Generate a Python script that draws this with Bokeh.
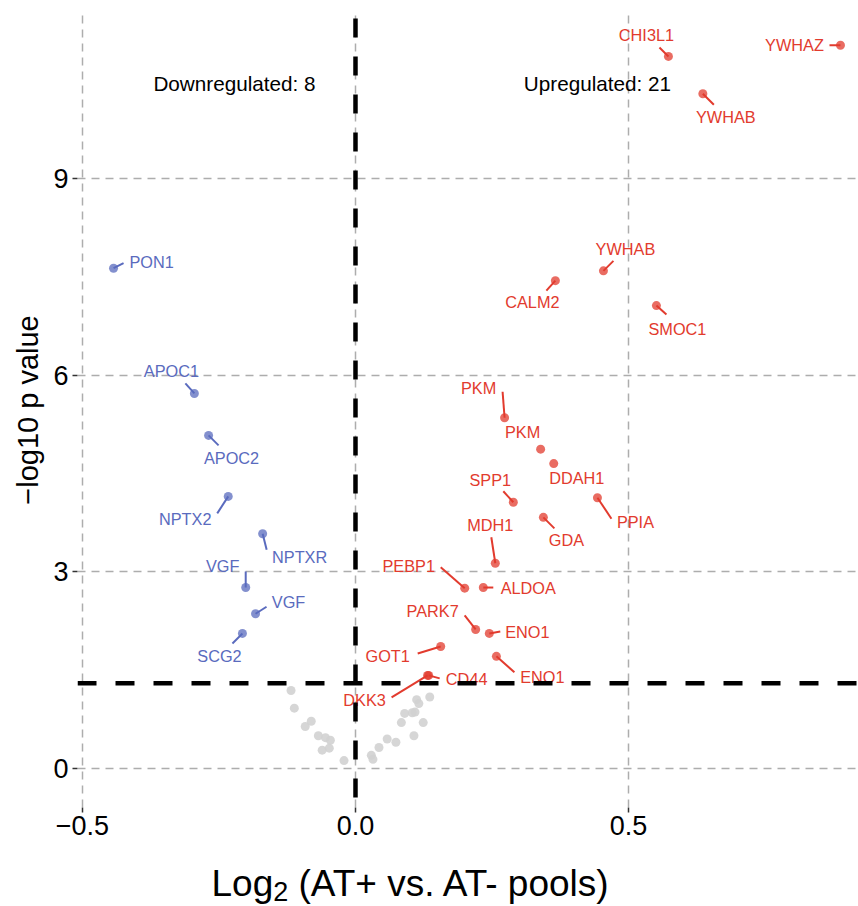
from bokeh.plotting import figure
from bokeh.layouts import column
from bokeh.models import Range1d, FixedTicker, CustomJSTickFormatter, Span, Label, ColumnDataSource
from bokeh.core.properties import value
from bokeh.embed import file_html
from bokeh.resources import INLINE

# ---------------- data ----------------
genes_up = ["YWHAZ", "CHI3L1", "YWHAB", "YWHAB", "CALM2", "SMOC1", "PKM", "PKM",
            "DDAH1", "SPP1", "PPIA", "GDA", "MDH1", "PEBP1", "ALDOA", "PARK7",
            "ENO1", "ENO1", "GOT1", "CD44", "DKK3"]
log2fc_up = [0.888, 0.573, 0.636, 0.454, 0.366, 0.551, 0.273, 0.339,
             0.363, 0.289, 0.443, 0.344, 0.256, 0.200, 0.234, 0.220,
             0.245, 0.258, 0.156, 0.134, 0.132]
nlogp_up = [11.03, 10.86, 10.29, 7.59, 7.44, 7.06, 5.35, 4.87,
            4.65, 4.06, 4.13, 3.83, 3.13, 2.75, 2.76, 2.12,
            2.06, 1.71, 1.86, 1.42, 1.42]

genes_down = ["PON1", "APOC1", "APOC2", "NPTX2", "NPTXR", "VGF", "VGF", "SCG2"]
log2fc_down = [-0.443, -0.295, -0.269, -0.233, -0.170, -0.201, -0.183, -0.207]
nlogp_down = [7.63, 5.72, 5.08, 4.15, 3.58, 2.76, 2.36, 2.06]

log2fc_ns = [-0.118, -0.112, -0.092, -0.081, -0.068, -0.055, -0.046, -0.061, -0.048, -0.021,
             0.029, 0.032, 0.043, 0.058, 0.074, 0.084, 0.090, 0.104, 0.109, 0.112,
             0.116, 0.124, 0.107, 0.136]
nlogp_ns = [1.19, 0.92, 0.64, 0.72, 0.50, 0.47, 0.43, 0.28, 0.31, 0.12,
            0.20, 0.14, 0.32, 0.45, 0.40, 0.70, 0.84, 0.85, 0.86, 1.05,
            0.99, 0.70, 0.50, 1.09]

x_ticks = [-0.5, 0.0, 0.5]
y_ticks = [0, 3, 6, 9]
p_cutoff_nlog = 1.30103   # -log10(0.05)
fc_cutoff = 0.0

x_title_parts = ["Log", "2", "(AT+ vs. AT- pools)"]
y_title = "\u2212log10 p value"

# ---------------- label layout (screen px offsets, repel-style) ----------------
up_lab_dx = [-46, -22, 23, 22, -23, 21, -26, -18, 23, -23, 38, 23, -5, -56, 45, -43, 38, 46, -53, 38, -63]
up_lab_dy = [0, -21, 23, -22, 21, 23, -30, -17, 14, -22, 24, 23, -38, -22, 0, -18, -1, 21, 9, 4, 25]
up_seg_dx = [-11, -9, 11, 10, -9, 10, -2, 0, 0, -10, 14, 11, -4, -24, 10, -11, 11, 18, -23, 11, -36]
up_seg_dy = [0, -9, 11, -10, 10, 9, -26, 0, 0, -11, 21, 11, -26, -21, 0, -14, -2, 16, 7, 3, 22]

dn_lab_dx = [38, -23, 23, -43, 37, -23, 33, -23]
dn_lab_dy = [-6, -22, 23, 23, 23, -22, -12, 23]
dn_seg_dx = [10, -9, 10, -11, 4, 0, 11, -10]
dn_seg_dy = [-5, -10, 10, 17, 16, -16, -7, 10]

# ---------------- figure ----------------
W = 858
HM = 860          # main figure height
HT = 46           # x-title strip height (total 906)
BL, BR, BT, BB = 77, 0, 12, 53
X0, X1 = -0.509, 0.921
Y0, Y1 = -0.595, 11.53
PXX = (W - BL - BR) / (X1 - X0)
PXY = (HM - BT - BB) / (Y1 - Y0)

RED = "#E23B2E"
BLUE = "#5A6BBE"
GREY = "#D2D2D2"
FONT = "Liberation Sans"

p = figure(width=W, height=HM, x_range=Range1d(X0, X1), y_range=Range1d(Y0, Y1),
           output_backend="svg", toolbar_location=None,
           min_border_left=BL, min_border_right=BR, min_border_top=BT, min_border_bottom=BB)
p.outline_line_color = None
p.background_fill_color = "white"
p.border_fill_color = "white"

p.xaxis.ticker = FixedTicker(ticks=x_ticks)
p.yaxis.ticker = FixedTicker(ticks=y_ticks)
p.xaxis.formatter = CustomJSTickFormatter(code="return tick.toFixed(1).replace('-', '\u2212');")
p.yaxis.formatter = CustomJSTickFormatter(code="return tick.toFixed(0);")

p.grid.grid_line_color = "#ADADAD"
p.grid.grid_line_dash = "8 6"
p.grid.grid_line_width = 1.5

for ax in (p.xaxis[0], p.yaxis[0]):
    ax.axis_line_color = None
    ax.major_tick_line_color = "#333333"
    ax.major_tick_line_width = 1.5
    ax.major_tick_out = 5
    ax.major_tick_in = 0
    ax.minor_tick_line_color = None
    ax.major_label_text_font = FONT
    ax.major_label_text_font_size = "27px"
    ax.major_label_text_color = "black"
    ax.axis_label_text_font = FONT
    ax.axis_label_text_font_style = "normal"
    ax.axis_label_text_color = "black"

p.xaxis.major_label_standoff = 3
p.yaxis.axis_label = y_title
p.yaxis.axis_label_text_font_size = "29px"
p.yaxis.major_label_standoff = 4
p.yaxis.axis_label_standoff = 6

# non-significant points
p.scatter(log2fc_ns, nlogp_ns, size=9, fill_color=GREY, fill_alpha=0.9, line_color=None)


def add_group(xs, ys, names, ldx, ldy, sdx, sdy, color):
    sx1 = [x + d / PXX for x, d in zip(xs, sdx)]
    sy1 = [y - d / PXY for y, d in zip(ys, sdy)]
    p.segment(x0=xs, y0=ys, x1=sx1, y1=sy1, line_color=color, line_width=2)
    p.scatter(xs, ys, size=9, fill_color=color, fill_alpha=0.75, line_color=None)
    src = ColumnDataSource(dict(x=xs, y=ys, t=names, dx=ldx, dy=ldy))
    p.text(x="x", y="y", text="t", x_offset="dx", y_offset="dy", source=src,
           text_color=color, text_font=value(FONT), text_font_size="16.3px",
           text_align="center", text_baseline="middle")


add_group(log2fc_up, nlogp_up, genes_up, up_lab_dx, up_lab_dy, up_seg_dx, up_seg_dy, RED)
add_group(log2fc_down, nlogp_down, genes_down, dn_lab_dx, dn_lab_dy, dn_seg_dx, dn_seg_dy, BLUE)

# threshold lines
p.add_layout(Span(location=fc_cutoff, dimension="height", line_color="black",
                  line_width=4.5, line_dash="19 19", line_dash_offset=32))
p.add_layout(Span(location=p_cutoff_nlog, dimension="width", line_color="black",
                  line_width=4.5, line_dash="19 19"))

# counts
p.add_layout(Label(x=-0.2216, y=10.45, text=f"Downregulated: {len(genes_down)}",
                   text_font=FONT, text_font_size="20.7px", text_color="black",
                   text_align="center", text_baseline="middle"))
p.add_layout(Label(x=0.443, y=10.45, text=f"Upregulated: {len(genes_up)}",
                   text_font=FONT, text_font_size="20.7px", text_color="black",
                   text_align="center", text_baseline="middle"))

# ---------------- x-axis title strip (true subscript) ----------------
t = figure(width=W, height=HT, x_range=Range1d(0, 1), y_range=Range1d(0, 1),
           output_backend="svg", toolbar_location=None,
           x_axis_location=None, y_axis_location=None,
           min_border_left=0, min_border_right=0, min_border_top=0, min_border_bottom=0)
t.outline_line_color = None
t.grid.visible = False
t.background_fill_color = "white"
t.border_fill_color = "white"

XF = 37
SUBF = 27
x_left = 211 - BL      # frame-relative (frames are aligned in the column)
base_y = 23
sub_y = 15.4
w_log = 1.668 * XF
w_sub = 0.556 * SUBF
w_space = 0.278 * XF
t.add_layout(Label(x=x_left, y=base_y, x_units="screen", y_units="screen", text=x_title_parts[0],
                   text_font=FONT, text_font_size=f"{XF}px", text_color="black",
                   text_align="left", text_baseline="alphabetic"))
t.add_layout(Label(x=x_left + w_log, y=sub_y, x_units="screen", y_units="screen",
                   text=x_title_parts[1],
                   text_font=FONT, text_font_size=f"{SUBF}px", text_color="black",
                   text_align="left", text_baseline="alphabetic"))
t.add_layout(Label(x=x_left + w_log + w_sub + w_space, y=base_y, x_units="screen", y_units="screen",
                   text=x_title_parts[2],
                   text_font=FONT, text_font_size=f"{XF}px", text_color="black",
                   text_align="left", text_baseline="alphabetic"))

layout = column(p, t, spacing=0)
open("out.html", "w").write(file_html(layout, INLINE))
